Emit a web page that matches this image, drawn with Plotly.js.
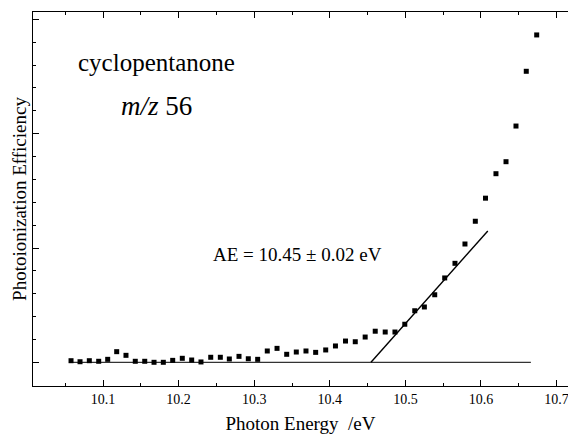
<!DOCTYPE html>
<html>
<head>
<meta charset="utf-8">
<script src="https://cdn.plot.ly/plotly-3.0.1.min.js"></script>
<style>html,body{margin:0;padding:0;background:#fff;}#chart{width:568px;height:434px;}</style>
</head>
<body>
<div id="chart"></div>
<script>
// Photon energy (eV) of each measured point
var energy = [10.0577, 10.0696, 10.0819, 10.0943, 10.1062, 10.1181, 10.1304, 10.1427, 10.1552, 10.1675,
              10.1798, 10.1922, 10.2049, 10.2173, 10.2296, 10.2425, 10.2552, 10.2671, 10.2799, 10.2922,
              10.3046, 10.3173, 10.3302, 10.3430, 10.3557, 10.3685, 10.3813, 10.3946, 10.4075, 10.4208,
              10.4337, 10.4468, 10.4601, 10.4733, 10.4862, 10.4992, 10.5124, 10.5251, 10.5388, 10.5520,
              10.5656, 10.5788, 10.5925, 10.6060, 10.6198, 10.6331, 10.6463, 10.6599, 10.6737];
// Photoionization efficiency (arbitrary units)
var efficiency = [0.014, 0.005, 0.014, 0.009, 0.026, 0.093, 0.061, 0.009, 0.009, 0.000,
                  0.000, 0.017, 0.035, 0.020, 0.003, 0.044, 0.044, 0.029, 0.052, 0.031,
                  0.026, 0.099, 0.122, 0.070, 0.090, 0.099, 0.087, 0.108, 0.143, 0.186,
                  0.180, 0.221, 0.272, 0.265, 0.265, 0.333, 0.451, 0.484, 0.591, 0.738,
                  0.866, 1.035, 1.234, 1.436, 1.650, 1.755, 2.067, 2.546, 2.864];
// Background baseline
var baselineX = [10.055, 10.666];
var baselineY = [0, 0];
// Linear fit of the onset
var fitX = [10.4545, 10.609];
var fitY = [0, 1.149];
// Texts
var compoundLabel = 'cyclopentanone';
var massLabel = '<i>m/z</i> 56';
var aeLabel = 'AE = 10.45 \u00b1 0.02 eV';
var xTitle = 'Photon Energy\u00a0\u00a0/eV';
var yTitle = 'Photoionization Efficiency';

var serif = "'Liberation Serif', 'Times New Roman', Times, serif";

var traces = [
  {x: baselineX, y: baselineY, type: 'scatter', mode: 'lines',
   line: {color: '#333', width: 1.3}, hoverinfo: 'skip'},
  {x: fitX, y: fitY, type: 'scatter', mode: 'lines',
   line: {color: '#000', width: 1.4}, hoverinfo: 'skip'},
  {x: energy, y: efficiency, type: 'scatter', mode: 'markers',
   marker: {symbol: 'square', size: 5, color: '#000', line: {width: 0}}}
];

var layout = {
  width: 568, height: 434,
  margin: {l: 33, r: 0, t: 12, b: 48, pad: 0},
  paper_bgcolor: '#fff', plot_bgcolor: '#fff',
  showlegend: false,
  font: {family: serif, color: '#000'},
  xaxis: {
    range: [10.0074, 10.7151], autorange: false,
    showgrid: false, zeroline: false,
    showline: true, linecolor: '#000', linewidth: 1.2, mirror: 'ticks',
    ticks: 'inside', ticklen: 6, tickwidth: 1, tickcolor: '#000',
    tick0: 10, dtick: 0.1,
    minor: {dtick: 0.05, ticks: 'inside', ticklen: 3, tickwidth: 1, tickcolor: '#000', showgrid: false},
    tickfont: {family: serif, size: 14, color: '#000'},
    ticklabeloverflow: 'allow',
    automargin: false,
    title: {text: xTitle, font: {family: serif, size: 19, color: '#000'}, standoff: 11}
  },
  yaxis: {
    range: [-0.2073, 3.0647], autorange: false,
    showgrid: false, zeroline: false,
    showline: true, linecolor: '#000', linewidth: 1.2, mirror: false,
    ticks: 'inside', ticklen: 6, tickwidth: 1, tickcolor: '#000',
    tick0: 0, dtick: 1,
    minor: {dtick: 0.2, ticks: 'inside', ticklen: 3, tickwidth: 1, tickcolor: '#000', showgrid: false},
    showticklabels: false,
    automargin: false,
    title: {text: yTitle, font: {family: serif, size: 19, color: '#000'}, standoff: 0}
  },
  annotations: [
    {x: 10.0643, y: 2.6186, xref: 'x', yref: 'y', text: compoundLabel, showarrow: false,
     xanchor: 'left', yanchor: 'middle', font: {family: serif, size: 25, color: '#000'}},
    {x: 10.1214, y: 2.2423, xref: 'x', yref: 'y', text: massLabel, showarrow: false,
     xanchor: 'left', yanchor: 'middle', font: {family: serif, size: 27, color: '#000'}},
    {x: 10.3575, y: 0.9475, xref: 'x', yref: 'y', text: aeLabel, showarrow: false,
     xanchor: 'center', yanchor: 'middle', font: {family: serif, size: 19, color: '#000'}}
  ]
};

Plotly.newPlot('chart', traces, layout, {displayModeBar: false, staticPlot: true});
</script>
</body>
</html>
